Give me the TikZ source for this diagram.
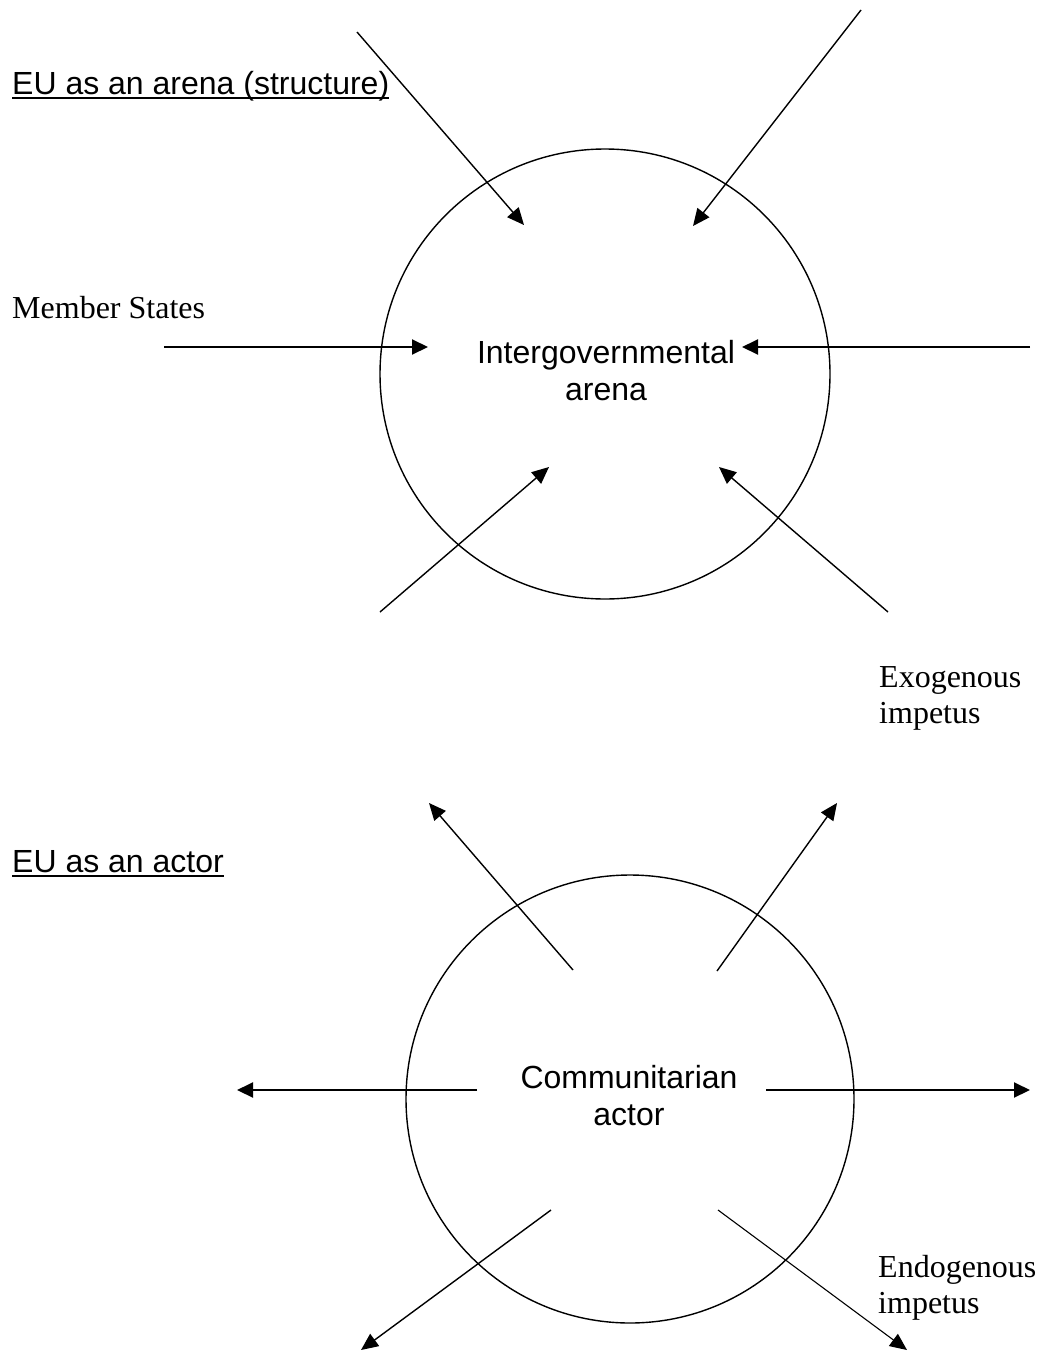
\documentclass[tikz,border=0pt]{standalone}
\usepackage{fontspec}
\setmainfont{Liberation Serif}
\setsansfont{Liberation Sans}
\usetikzlibrary{arrows.meta}
\begin{document}
\begin{tikzpicture}[x=1pt,y=-1pt,
  ring/.style={circle, draw, line width=1.4pt, inner sep=0pt},
  sanslabel/.style={inner sep=0pt, font=\sffamily\fontsize{32}{37}\selectfont},
  seriflabel/.style={inner sep=0pt, font=\rmfamily\fontsize{32}{37}\selectfont},
  arr/.style={line width=1.4pt, -{Triangle[length=17pt,width=15pt]}},
  harr/.style={line width=2pt, -{Triangle[length=16pt,width=15pt]}},
  uline/.style={line width=2.4pt}]
\useasboundingbox (0,0) rectangle (1037,1354);

% ---------- top: EU as an arena ----------
\node[sanslabel, anchor=base west] (t1) at (12,94) {EU as an arena (structure)};
\draw[uline] ([yshift=-4pt]t1.base west) -- ([yshift=-4pt]t1.base east);

\node[ring, minimum size=450pt] (arena) at (605,374) {};
\node[sanslabel, anchor=base] (ig1) at (606,363) {Intergovernmental};
\node[sanslabel, anchor=base] (ig2) at (606,400) {arena};

\node[seriflabel, anchor=base west] (ms) at (12,318) {Member States};
\node[seriflabel, anchor=base west] (ex1) at (879,687) {Exogenous};
\node[seriflabel, anchor=base west] (ex2) at (879,723) {impetus};

\coordinate (a1s) at (357,32);   \coordinate (a1e) at (524,225);
\coordinate (a2s) at (861,10);   \coordinate (a2e) at (693,226);
\coordinate (a3s) at (164,347);  \coordinate (a3e) at (428,347);
\coordinate (a4s) at (1030,347); \coordinate (a4e) at (742,347);
\coordinate (a5s) at (380,612);  \coordinate (a5e) at (549,467);
\coordinate (a6s) at (888,612);  \coordinate (a6e) at (719,467);

\draw[arr] (a1s) -- (a1e);
\draw[arr] (a2s) -- (a2e);
\draw[harr] (a3s) -- (a3e);
\draw[harr] (a4s) -- (a4e);
\draw[arr] (a5s) -- (a5e);
\draw[arr] (a6s) -- (a6e);

% ---------- bottom: EU as an actor ----------
\node[sanslabel, anchor=base west] (t2) at (12,872) {EU as an actor};
\draw[uline] ([yshift=-4pt]t2.base west) -- ([yshift=-4pt]t2.base east);

\node[ring, minimum size=448pt] (actor) at (630,1099) {};
\node[sanslabel, anchor=base] (ca1) at (629,1088) {Communitarian};
\node[sanslabel, anchor=base] (ca2) at (629,1125) {actor};

\node[seriflabel, anchor=base west] (en1) at (878,1277) {Endogenous};
\node[seriflabel, anchor=base west] (en2) at (878,1313) {impetus};

\coordinate (b1s) at (573,970);  \coordinate (b1e) at (429,803);
\coordinate (b2s) at (717,971);  \coordinate (b2e) at (837,803);
\coordinate (b3s) at (477,1090); \coordinate (b3e) at (237,1090);
\coordinate (b4s) at (766,1090); \coordinate (b4e) at (1030,1090);
\coordinate (b5s) at (551,1210); \coordinate (b5e) at (361,1350);
\coordinate (b6s) at (718,1210); \coordinate (b6e) at (907,1350);

\draw[arr] (b1s) -- (b1e);
\draw[arr] (b2s) -- (b2e);
\draw[harr] (b3s) -- (b3e);
\draw[harr] (b4s) -- (b4e);
\draw[arr] (b5s) -- (b5e);
\draw[arr, line width=1.1pt] (b6s) -- (b6e);
\end{tikzpicture}
\end{document}
